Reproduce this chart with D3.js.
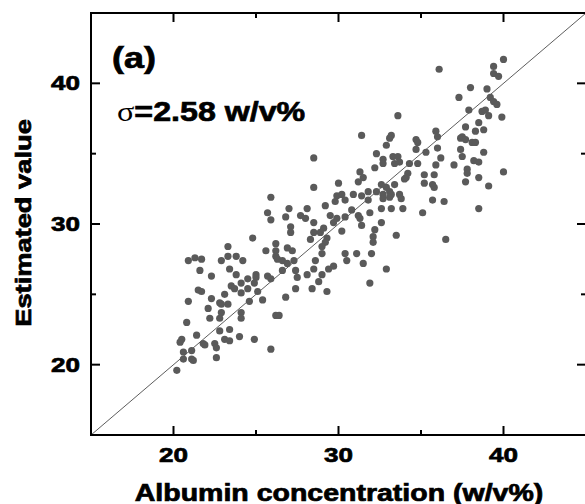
<!DOCTYPE html>
<html>
<head>
<meta charset="utf-8">
<script src="https://cdn.jsdelivr.net/npm/d3@7"></script>
<style>
body { margin: 0; background: #fff; }
svg { display: block; }
</style>
</head>
<body>
<svg id="svg" width="585" height="504"></svg>
<script>
// albumin concentration (reference, w/v%)
var albumin = [
 36.1,39.4,39.4,39.7,40.0,38.0,37.3,39.0,39.2,39.4,39.6,39.9,37.9,38.7,38.9,39.1,38.5,37.7,38.3,38.8,
 33.6,35.9,36.0,37.4,37.5,37.7,38.1,38.3,36.0,37.4,38.8,35.3,34.7,34.8,34.7,33.2,33.1,32.9,36.2,37.5,
 38.2,38.5,33.3,33.6,33.4,33.7,34.3,34.8,35.9,37.0,37.8,37.8,38.5,37.7,39.1,40.0,35.2,35.8,34.2,34.1,
 34.0,35.2,35.7,35.8,33.4,33.1,33.2,33.1,33.7,33.8,33.2,33.9,35.7,36.4,35.1,38.5,33.5,36.5,32.9,32.9,
 28.5,31.4,32.3,32.7,32.7,32.2,31.3,31.5,31.2,30.0,28.5,32.6,32.3,32.7,31.8,30.9,31.4,29.9,30.2,29.8,
 30.4,31.8,32.7,29.2,30.8,29.5,29.9,30.4,31.2,31.3,31.9,32.6,27.0,28.1,26.8,27.7,28.0,28.5,29.7,31.4,
 32.6,27.1,29.1,30.2,28.5,28.9,32.2,27.1,32.1,29.3,28.3,29.2,32.1,26.2,29.0,26.9,27.2,26.2,29.0,30.4,
 31.1,32.0,26.2,26.3,26.6,26.9,27.3,28.6,30.5,29.7,29.4,31.5,28.5,27.4,26.6,27.5,28.1,29.0,28.8,28.4,
 27.4,29.3,26.8,31.9,26.2,26.4,25.9,
 25.9,25.7,25.9,24.8,25.6,23.3,20.9,21.3,21.7,22.9,23.3,23.8,24.2,21.6,23.4,23.8,25.0,22.3,25.7,24.5,
 25.0,25.9,21.5,21.7,23.5,23.7,24.1,24.1,24.5,24.9,25.1,25.4,20.9,22.3,23.1,22.8,22.9,23.3,24.6,22.1,
 22.9,24.1,22.2,22.8,24.1,20.8,22.8,23.4,21.4,24.0,20.5,20.4,23.1,23.4,24.9,21.8,21.9,22.5,22.6,21.1,
 20.6,20.6,21.1,21.2,22.6,20.2
];
// estimated value
var estimated = [
 41.0,41.2,40.7,40.5,41.7,39.7,39.0,39.6,39.0,38.7,38.5,37.6,38.1,38.0,38.1,37.7,37.2,36.9,36.6,36.7,
 37.7,36.6,36.2,36.1,36.2,36.0,35.8,35.8,35.4,35.3,35.1,35.1,36.0,35.8,35.3,36.3,36.1,35.6,34.7,34.8,
 34.5,34.4,34.8,34.8,34.3,34.4,34.3,34.3,34.2,34.2,33.9,33.6,33.3,33.0,32.7,33.7,33.5,33.5,33.6,33.3,
 33.2,32.9,32.8,32.6,32.8,32.3,32.1,31.9,32.1,31.8,31.1,31.1,31.7,31.6,30.8,31.1,29.2,28.9,26.8,32.6,
 34.7,36.3,35.0,34.6,34.3,34.0,33.7,33.3,33.0,32.9,32.6,32.8,32.3,32.1,32.3,32.1,32.0,32.0,32.1,31.6,
 31.7,31.7,31.8,31.3,31.0,30.6,30.4,30.5,30.6,30.4,30.8,31.1,31.1,31.1,30.5,30.6,30.4,30.1,30.1,29.9,
 30.1,29.8,29.7,29.5,29.4,29.4,29.6,29.4,29.1,29.0,28.9,28.7,28.7,28.6,28.4,28.3,28.1,28.1,27.9,27.9,
 27.9,27.9,27.7,27.5,27.4,27.2,27.4,27.4,27.4,27.0,26.8,27.2,26.8,26.7,26.7,26.2,26.4,26.4,25.9,25.4,
 25.4,25.2,24.8,25.8,23.5,23.5,21.1,
 31.9,30.8,30.3,29.0,28.1,28.4,27.4,27.6,27.5,27.4,27.7,27.7,27.4,26.7,26.8,26.4,26.4,26.3,26.3,26.1,
 26.2,26.1,25.3,25.2,25.6,25.4,25.8,25.1,25.4,25.8,25.2,24.6,24.5,24.7,25.0,24.4,24.3,24.3,24.5,24.0,
 23.7,23.7,23.3,23.3,23.3,23.0,22.4,22.5,22.1,22.0,21.8,21.6,21.8,21.7,21.8,21.5,21.4,21.5,21.2,21.0,
 20.9,20.4,20.4,20.3,20.5,19.6
];
var xDomain = [15, 45];
var yDomain = [15, 45];
var majorTicks = [20, 30, 40];
var minorTicks = [25, 35];
var xTitle = "Albumin concentration (w/v%)";
var yTitle = "Estimated value";
var panelLabel = "(a)";
var sigmaText = "=2.58 w/v%";

var svg = d3.select("#svg");
var pLeft = 91, pRight = 586, pTop = 13, pBottom = 435;
var wide = 1.24; // heavy wide font in the original

var x = d3.scaleLinear().domain(xDomain).range([pLeft, pRight]);
var y = d3.scaleLinear().domain(yDomain).range([pBottom, pTop]);

var font = "'Liberation Sans', Arial, sans-serif";

// y = x line
svg.append("line")
    .attr("x1", x(xDomain[0])).attr("y1", y(yDomain[0]))
    .attr("x2", x(xDomain[1])).attr("y2", y(yDomain[1]))
    .attr("stroke", "#333").attr("stroke-width", 0.8);

// points
svg.append("g").selectAll("circle")
    .data(albumin.map(function(d, i) { return [d, estimated[i]]; }))
    .enter().append("circle")
    .attr("cx", function(d) { return x(d[0]); })
    .attr("cy", function(d) { return y(d[1]); })
    .attr("r", 3.6)
    .attr("fill", "#5a5a5a");

// ticks, all pointing inwards
var tickG = svg.append("g").attr("stroke", "#000").attr("stroke-width", 2);
function ticks(list, len) {
    list.forEach(function(v) {
        tickG.append("line").attr("x1", x(v)).attr("x2", x(v)).attr("y1", pBottom).attr("y2", pBottom - len);
        tickG.append("line").attr("x1", x(v)).attr("x2", x(v)).attr("y1", pTop).attr("y2", pTop + len);
        tickG.append("line").attr("y1", y(v)).attr("y2", y(v)).attr("x1", pLeft).attr("x2", pLeft + len);
        tickG.append("line").attr("y1", y(v)).attr("y2", y(v)).attr("x1", pRight).attr("x2", pRight - len);
    });
}
ticks(majorTicks, 9);
ticks(minorTicks, 5);

svg.append("rect")
    .attr("x", pLeft).attr("y", pTop)
    .attr("width", pRight - pLeft).attr("height", pBottom - pTop)
    .attr("fill", "none").attr("stroke", "#000").attr("stroke-width", 2);

function boldText(tr, size, anchor, str) {
    return svg.append("text")
        .attr("transform", tr)
        .attr("text-anchor", anchor)
        .style("font-family", font).style("font-weight", "bold").style("font-size", size + "px")
        .attr("stroke", "#000").attr("stroke-width", 0.7)
        .text(str);
}

// tick labels
majorTicks.forEach(function(v) {
    boldText("translate(" + x(v) + ",462) scale(" + wide + ",1)", 21, "middle", v);
    boldText("translate(80," + (y(v) + 7) + ") scale(" + wide + ",1)", 21, "end", v);
});

// axis titles
boldText("translate(339,501) scale(" + wide + ",1)", 23, "middle", xTitle);
boldText("translate(31,223) rotate(-90) scale(" + wide + ",1)", 22, "middle", yTitle);

// panel label and sigma
boldText("translate(112,68) scale(" + wide + ",1)", 29, "start", panelLabel);
var s = boldText("translate(117,121) scale(1.15,1)", 28, "start", null);
s.append("tspan").style("font-family", "'Liberation Serif', serif").style("font-weight", "normal")
    .attr("stroke", "none").text("σ");
s.append("tspan").text(sigmaText);
</script>
</body>
</html>
